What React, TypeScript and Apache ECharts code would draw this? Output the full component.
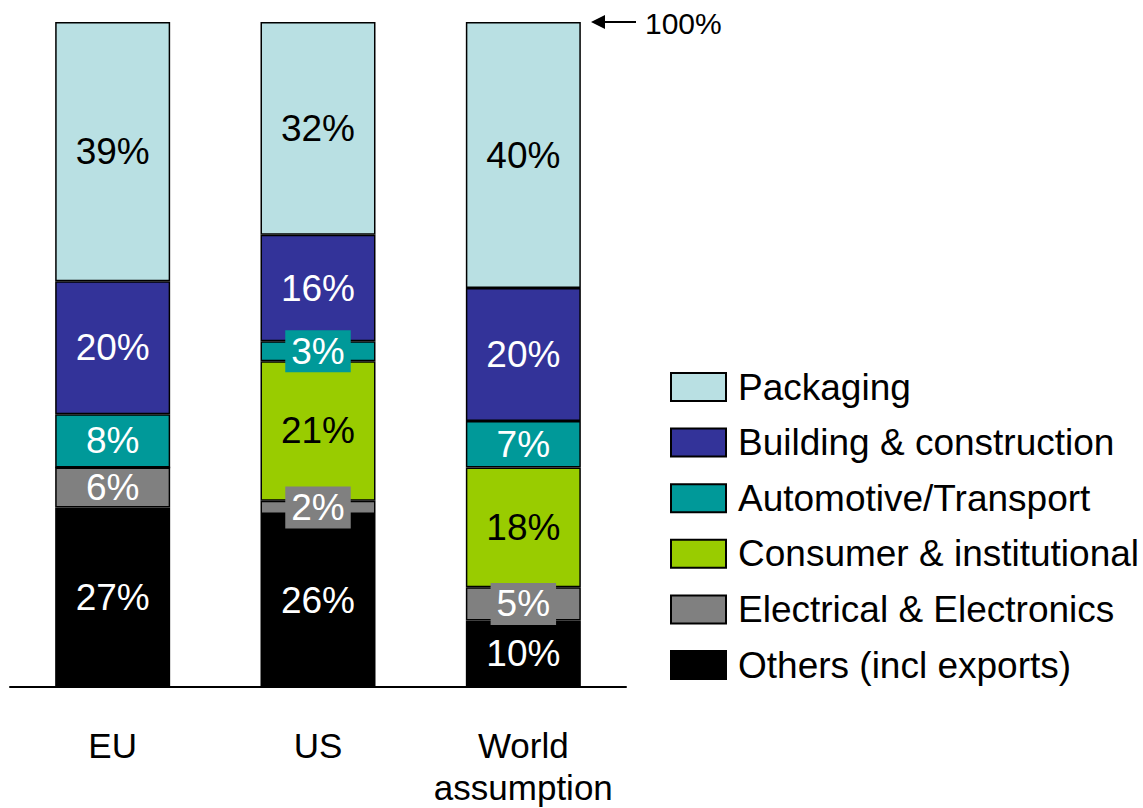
import React, { useEffect, useRef } from "react";
import * as echarts from "echarts";

const categories = ["EU", "US", "World\nassumption"];
const others = [27, 26, 10];
const electrical = [6, 2, 5];
const consumer = [0, 21, 18];
const automotive = [8, 3, 7];
const building = [20, 16, 20];
const packaging = [39, 32, 40];

const FONT = "'Liberation Sans', Arial, sans-serif";

export default function App() {
  const ref = useRef<HTMLDivElement>(null);
  useEffect(() => {
    document.body.style.margin = "0";
    const chart = echarts.init(ref.current!, null, { renderer: "svg" });
    const mk = (
      name: string,
      data: number[],
      color: string,
      labelColor: string,
      boxed: number[] = []
    ) => ({
      name,
      type: "bar",
      stack: "total",
      barWidth: "56%",
      data: data.map((v, i) =>
        boxed.includes(i)
          ? {
              value: v,
              label: { backgroundColor: color, padding: [3, 6, 2, 6] },
            }
          : v
      ),
      itemStyle: { color, borderColor: "#000", borderWidth: 1.5 },
      label: {
        show: true,
        position: "inside",
        color: labelColor,
        fontSize: 37,
        fontFamily: FONT,
        formatter: (p: any) => (p.value ? p.value + "%" : ""),
      },
    });
    chart.setOption({
      animation: false,
      textStyle: { fontFamily: FONT },
      grid: {
        left: 10,
        right: 517,
        top: 22,
        bottom: 121,
        containLabel: false,
        outerBoundsMode: "none",
      },
      xAxis: {
        type: "category",
        data: categories,
        axisLine: { lineStyle: { color: "#000", width: 2 } },
        axisTick: { show: false },
        axisLabel: {
          interval: 0,
          color: "#000",
          fontSize: 35,
          lineHeight: 42,
          margin: 37,
          fontFamily: FONT,
        },
      },
      yAxis: { type: "value", min: 0, max: 100, show: false },
      legend: {
        orient: "vertical",
        left: 665,
        top: 355,
        itemWidth: 55,
        itemHeight: 28,
        itemGap: 1.6,
        icon: "rect",
        data: [
          "Packaging",
          "Building & construction",
          "Automotive/Transport",
          "Consumer & institutional",
          "Electrical & Electronics",
          "Others (incl exports)",
        ],
        textStyle: {
          fontSize: 37,
          lineHeight: 40,
          color: "#000",
          fontFamily: FONT,
          padding: [14, 0, 0, 7],
        },
      },
      series: [
        mk("Others (incl exports)", others, "#000000", "#fff"),
        mk("Electrical & Electronics", electrical, "#808080", "#fff", [1, 2]),
        mk("Consumer & institutional", consumer, "#99CC00", "#000"),
        mk("Automotive/Transport", automotive, "#009999", "#fff", [1]),
        mk("Building & construction", building, "#333399", "#fff"),
        mk("Packaging", packaging, "#B9E0E3", "#000"),
      ],
      graphic: [
        {
          type: "line",
          shape: { x1: 600, y1: 22, x2: 636, y2: 22 },
          style: { stroke: "#000", lineWidth: 2 },
        },
        {
          type: "polygon",
          shape: { points: [[591, 22], [605, 15], [605, 29]] },
          style: { fill: "#000" },
        },
        {
          type: "text",
          x: 645,
          y: 23,
          style: {
            text: "100%",
            fontSize: 30,
            fontFamily: FONT,
            fill: "#000",
            verticalAlign: "middle",
          },
        },
      ],
    });
    return () => chart.dispose();
  }, []);
  return <div ref={ref} style={{ width: 1143, height: 808 }} />;
}
